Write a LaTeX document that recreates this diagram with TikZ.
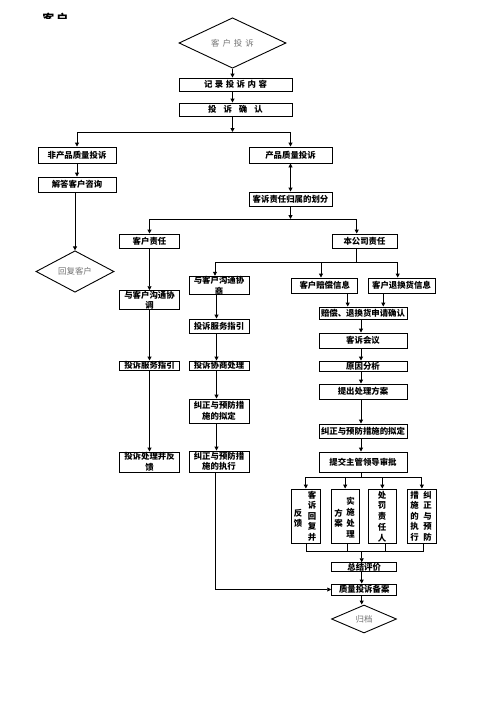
\documentclass[tikz,border=0pt]{standalone}
\usepackage{fontspec}
\setmainfont{Noto Sans CJK SC}
\usetikzlibrary{arrows.meta,shapes.geometric}
\begin{document}
\begin{tikzpicture}[x=1pt,y=-1pt,line width=0.9pt,
  bx/.style={draw,rectangle,fill=white,inner sep=0pt,align=center,
    font=\bfseries\fontsize{8.4}{10.5}\selectfont},
  dia/.style={draw,diamond,fill=white,inner sep=0pt,text=black!55,
    font=\fontsize{8.4}{10}\selectfont},
  vt/.style={inner sep=0pt,align=center,anchor=north,
    font=\bfseries\fontsize{8.4}{10.5}\selectfont},
  arr/.style={-{Triangle[length=4pt,width=4pt]}},
  darr/.style={{Triangle[length=4pt,width=4pt]}-{Triangle[length=4pt,width=4pt]}}]
\useasboundingbox (0,0) rectangle (496,702);
% title (clipped)
\begin{scope}
\clip (38,0) rectangle (80,18.5);
\node[inner sep=0pt,anchor=north west,font=\bfseries\fontsize{12}{12}\selectfont] (title) at (42,12.5) {客\hspace{2pt}户};
\end{scope}
% top chain
\node[dia,minimum width=107pt,minimum height=40pt] (d1) at (232.5,43) {客\hspace{3pt}户\hspace{3pt}投\hspace{3pt}诉};
\node[bx,minimum width=113pt,minimum height=13pt] (b1) at (235.5,84.5) {记\hspace{2.5pt}录\hspace{2.5pt}投\hspace{2.5pt}诉\hspace{2.5pt}内\hspace{2.5pt}容};
\node[bx,minimum width=113pt,minimum height=13pt] (b2) at (235.5,109.5) {投\hspace{7pt}诉\hspace{7pt}确\hspace{7pt}认};
\coordinate (j1) at (232.5,132);
\node[bx,minimum width=78pt,minimum height=16pt] (b3) at (77,155) {非产品质量投诉};
\node[bx,minimum width=83pt,minimum height=16pt] (b4) at (290.5,155) {产品质量投诉};
\node[bx,minimum width=78pt,minimum height=15pt] (b5) at (77,184.5) {解答客户咨询};
\node[bx,minimum width=83pt,minimum height=14pt] (b6) at (290.5,199) {客诉责任归属的划分};
\node[dia,minimum width=78pt,minimum height=23pt] (d2) at (75,271.5) {回复客户};
\coordinate (j2) at (290.5,219);
\node[bx,minimum width=60pt,minimum height=14pt] (b7) at (149.5,241) {客户责任};
\node[bx,minimum width=65pt,minimum height=14pt] (b8) at (364.5,241) {本公司责任};
\coordinate (j3) at (356.7,262.5);
% left column
\node[bx,minimum width=60pt,minimum height=14pt] (b9) at (149.5,300) {与客户沟通协\\调};
\node[bx,minimum width=60pt,minimum height=9pt] (b10) at (149.5,365.5) {投诉服务指引};
\node[bx,minimum width=60pt,minimum height=20pt] (b11) at (149.5,462) {投诉处理并反\\馈};
% middle column
\node[bx,minimum width=60pt,minimum height=15pt] (b12) at (219,285.5) {与客户沟通协\\商};
\node[bx,minimum width=60pt,minimum height=14pt] (b13) at (219,326) {投诉服务指引};
\node[bx,minimum width=60pt,minimum height=9pt] (b14) at (219,365.5) {投诉协商处理};
\node[bx,minimum width=60pt,minimum height=24pt] (b15) at (219,411) {纠正与预防措\\施的拟定};
\node[bx,minimum width=60pt,minimum height=21pt] (b16) at (219,461.5) {纠正与预防措\\施的执行};
% right column
\node[bx,minimum width=66pt,minimum height=15pt] (b17) at (324.7,285.5) {客户赔偿信息};
\node[bx,minimum width=67pt,minimum height=15pt] (b18) at (401.5,285.5) {客户退换货信息};
\node[bx,minimum width=88pt,minimum height=12pt] (b19) at (363,313) {赔偿、退换货申请确认};
\node[bx,minimum width=88pt,minimum height=15pt] (b20) at (363,340.5) {客诉会议};
\node[bx,minimum width=88pt,minimum height=10pt] (b21) at (363,366) {原因分析};
\node[bx,minimum width=88pt,minimum height=15pt] (b22) at (363,391.5) {提出处理方案};
\node[bx,minimum width=88pt,minimum height=14pt] (b23) at (363,431) {纠正与预防措施的拟定};
\node[bx,minimum width=88pt,minimum height=20pt] (b24) at (363,462) {提交主管领导审批};
\coordinate (j4) at (361.7,477.3);
% vertical boxes
\node[bx,minimum width=28.3pt,minimum height=54pt] (v1) at (305.85,516) {};
\node[bx,minimum width=28.3pt,minimum height=54pt] (v2) at (345.15,516) {};
\node[bx,minimum width=28.7pt,minimum height=54pt] (v3) at (382.35,516) {};
\node[bx,minimum width=28.3pt,minimum height=54pt] (v4) at (421.85,516) {};
\node[vt] (v1r) at (312,490.5) {客\\诉\\回\\复\\并};
\node[vt] (v1l) at (298,508.5) {反\\馈};
\node[vt,font=\bfseries\fontsize{8.4}{11}\selectfont] (v2r) at (350.5,497) {实\\施\\处\\理};
\node[vt] (v2l) at (338.5,508.5) {方\\案};
\node[vt,font=\bfseries\fontsize{8.4}{10.8}\selectfont] (v3c) at (382,490.5) {处\\罚\\责\\任\\人};
\node[vt] (v4r) at (427.5,490.5) {纠\\正\\与\\预\\防};
\node[vt] (v4l) at (414.5,490.5) {措\\施\\的\\执\\行};
\coordinate (j5) at (361.7,551);
\node[bx,minimum width=65pt,minimum height=9pt] (b25) at (364.2,567.2) {总结评价};
\node[bx,minimum width=65pt,minimum height=11pt] (b26) at (364.2,589.5) {质量投诉备案};
\node[dia,minimum width=65pt,minimum height=28pt] (d3) at (364,619) {归档};
% connectors: top
\draw[arr] (d1.south) -- (d1.south |- b1.north);
\draw[arr] (b1.south -| d1.south) -- (b2.north -| d1.south);
\draw[arr] (b2.south -| j1) -- (j1);
\draw[arr] (j1) -| (b3.north);
\draw[arr] (j1) -| (b4.north);
\draw[arr] (b3) -- (b5);
\draw[darr] (b4) -- (b6);
\draw[arr] (b5.south -| d2.north) -- (d2.north);
\draw[arr] (b6.south) -- (j2);
\draw[arr] (j2) -| (b7.north);
\draw[arr] (j2) -| (b8.north -| j3);
\draw (b8.south -| j3) -- (j3);
\draw[arr] (j3) -| ([xshift=-4pt]b12.north);
\draw[arr] (j3) -| ([xshift=-3.7pt]b17.north);
\draw[arr] (j3) -| ([xshift=-3.8pt]b18.north);
% left column
\draw[arr] (b7) -- (b9);
\draw[arr] (b9) -- (b10);
\draw[arr] (b10) -- (b11);
% middle column
\draw[arr] ([xshift=-2.5pt]b12.south) -- ([xshift=-2.5pt]b13.north);
\draw[arr] ([xshift=-2.5pt]b13.south) -- ([xshift=-2.5pt]b14.north);
\draw[arr] ([xshift=-2.5pt]b14.south) -- ([xshift=-2.5pt]b15.north);
\draw[arr] ([xshift=-2.5pt]b15.south) -- ([xshift=-2.5pt]b16.north);
\draw[arr] ([xshift=-3.3pt]b16.south) |- (b26.west);
% right column
\draw[arr] ([xshift=23pt]b17.south) -- ([xshift=23pt]b17.south |- b19.north);
\draw[arr] ([xshift=-18.2pt]b18.south) -- ([xshift=-18.2pt]b18.south |- b19.north);
\draw[arr] ([xshift=-2pt]b19.south) -- ([xshift=-2pt]b20.north);
\draw[arr] ([xshift=-2pt]b20.south) -- ([xshift=-2pt]b21.north);
\draw[arr] ([xshift=-2pt]b21.south) -- ([xshift=-2pt]b22.north);
\draw[arr] ([xshift=-2pt]b22.south) -- ([xshift=-2pt]b23.north);
\draw[arr] ([xshift=-2pt]b23.south) -- ([xshift=-2pt]b24.north);
\draw (b24.south -| j4) -- (j4);
\draw[arr] (j4) -| (v1.north);
\draw[arr] (j4) -| (v2.north);
\draw[arr] (j4) -| (v3.north);
\draw[arr] (j4) -| (v4.north);
% bottom
\draw ([xshift=1pt]v1.south) |- (j5);
\draw ([xshift=1.5pt]v4.south) |- (j5);
\draw ([xshift=2pt]v2.south) -- ([xshift=2pt]v2.south |- j5);
\draw ([xshift=3pt]v3.south) -- ([xshift=3pt]v3.south |- j5);
\draw[arr] (j5) -- (j5 |- b25.north);
\draw[arr] (b25.south -| j5) -- (b26.north -| j5);
\draw[arr] (b26.south -| j5) -- (d3.north -| j5);
\end{tikzpicture}
\end{document}
